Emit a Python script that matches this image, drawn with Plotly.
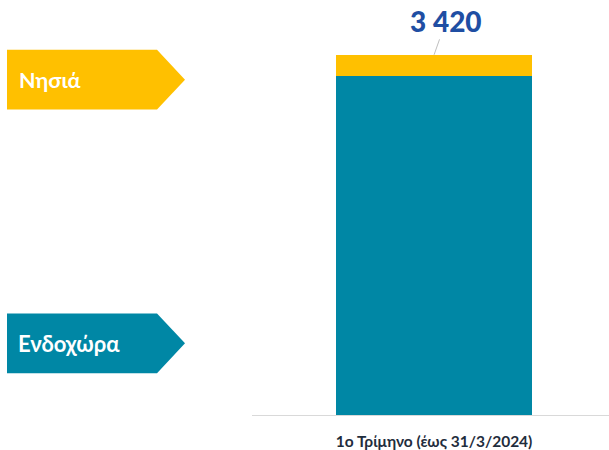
import plotly.graph_objects as go

categories = ["1ο Τρίμηνο (έως 31/3/2024)"]
series_names = ["Ενδοχώρα", "Νησιά"]
mainland = [3220]
islands = [200]
colors = ["#0087A5", "#FFC000"]

W, H = 609, 450
L_AX, TOP, BOT = 252, 20, 417
total = mainland[0] + islands[0]
ymax = total * (BOT - TOP) / 362.0

fig = go.Figure()
fig.add_trace(go.Bar(x=categories, y=mainland, name=series_names[0],
                     marker=dict(color=colors[0], line=dict(width=0)), width=0.549))
fig.add_trace(go.Bar(x=categories, y=islands, name=series_names[1],
                     marker=dict(color=colors[1], line=dict(width=0)), width=0.549))

def px(x):
    return x / W

def py(y):
    return (BOT - y) / (BOT - TOP)

# arrow-shaped legend labels
def arrow_shape(y0, y1, color):
    x0, xr, xt = 7, 157, 185
    ym = (y0 + y1) / 2
    path = (f"M {px(x0)} {py(y0)} L {px(xr)} {py(y0)} L {px(xt)} {py(ym)} "
            f"L {px(xr)} {py(y1)} L {px(x0)} {py(y1)} Z")
    return dict(type="path", xref="paper", yref="paper", path=path,
                fillcolor=color, line=dict(width=0), layer="above")

shapes = [arrow_shape(50, 110, colors[1]), arrow_shape(315, 375, colors[0])]

annotations = [
    dict(x=px(17), y=py(80), xref="paper", yref="paper", text=series_names[1],
         showarrow=False, xanchor="left", yanchor="middle",
         font=dict(family="Lato", size=21.5, color="white", weight="bold")),
    dict(x=px(16), y=py(345), xref="paper", yref="paper", text=series_names[0],
         showarrow=False, xanchor="left", yanchor="middle",
         font=dict(family="Lato", size=22, color="white", weight="bold")),
    dict(x=categories[0], y=total, xref="x", yref="y",
         text=f"{total:,}".replace(",", " "),
         showarrow=True, arrowhead=0, arrowwidth=1, arrowcolor="#BFBFBF",
         ax=12, ay=-34, standoff=0,
         font=dict(family="Lato", size=28, color="#1F4EA3", weight=900)),
]

fig.update_layout(
    width=W, height=H,
    barmode="stack",
    showlegend=False,
    plot_bgcolor="white", paper_bgcolor="white",
    margin=dict(l=0, r=0, t=TOP, b=H - BOT),
    shapes=shapes,
    annotations=annotations,
    xaxis=dict(domain=[L_AX / W, 1], range=[-0.51, 0.49], showline=True,
               linecolor="#D9D9D9", linewidth=1, showgrid=False, ticks="",
               ticklabelstandoff=12,
               tickfont=dict(family="Lato", size=15.5, color="#1F2D3D", weight="bold")),
    yaxis=dict(range=[0, ymax], visible=False, showgrid=False),
)

fig.write_html("out.html", config={"displayModeBar": False},
               post_script="document.body.style.margin='0';document.body.style.padding='0';")
